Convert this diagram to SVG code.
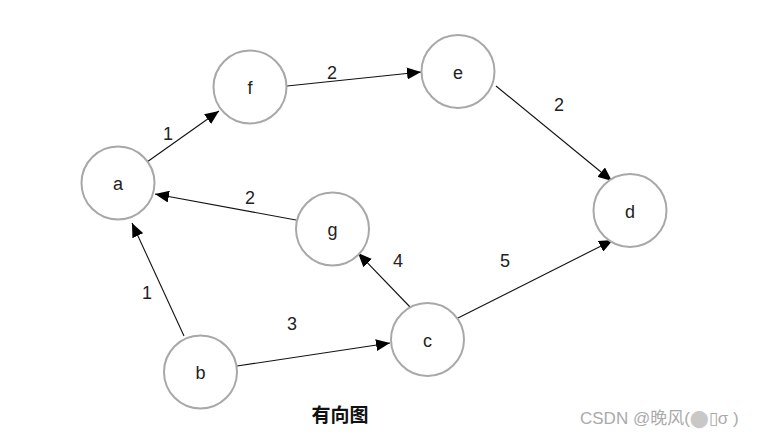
<svg xmlns="http://www.w3.org/2000/svg" width="762" height="439" viewBox="0 0 762 439">
<style>
.node circle{fill:#fff;stroke:#a8a8a8;stroke-width:2}
.node text{font-family:"Liberation Sans",Arial,sans-serif;font-size:18px;fill:#222;text-anchor:middle;dominant-baseline:central}
.edge{stroke:#111;stroke-width:1.1;fill:none;marker-end:url(#arr)}
.lbl{font-family:"Liberation Sans",Arial,sans-serif;font-size:18px;fill:#222;text-anchor:middle}
</style>
<defs>
<marker id="arr" markerUnits="userSpaceOnUse" viewBox="0 0 14 12" refX="14" refY="6" markerWidth="14" markerHeight="12" orient="auto">
<path d="M0,0 L14,6 L0,12 Z" fill="#000"/>
</marker>
</defs>
<rect width="762" height="439" fill="#fff"/>
<g id="connectors">
<line class="edge" x1="147" y1="162" x2="219" y2="111"/>
<line class="edge" x1="287" y1="86" x2="421" y2="72"/>
<line class="edge" x1="496" y1="86" x2="612" y2="181"/>
<line class="edge" x1="296" y1="220" x2="155" y2="194"/>
<line class="edge" x1="184" y1="336" x2="132" y2="223"/>
<line class="edge" x1="237" y1="366" x2="390" y2="343"/>
<line class="edge" x1="411" y1="308" x2="358" y2="253"/>
<line class="edge" x1="456" y1="319" x2="613" y2="240"/>
<text class="lbl" x="168" y="140">1</text>
<text class="lbl" x="332" y="79">2</text>
<text class="lbl" x="559" y="111">2</text>
<text class="lbl" x="250" y="204">2</text>
<text class="lbl" x="398" y="267">4</text>
<text class="lbl" x="505" y="267">5</text>
<text class="lbl" x="147" y="299">1</text>
<text class="lbl" x="292" y="330">3</text>
</g>
<g id="node-a" class="node"><circle cx="118" cy="183" r="36.5"/><text x="118" y="184">a</text></g>
<g id="node-f" class="node"><circle cx="250" cy="87" r="36.5"/><text x="250" y="88">f</text></g>
<g id="node-e" class="node"><circle cx="458" cy="71.5" r="36.5"/><text x="458" y="72.5">e</text></g>
<g id="node-g" class="node"><circle cx="332.5" cy="229" r="36.5"/><text x="332.5" y="230">g</text></g>
<g id="node-d" class="node"><circle cx="630" cy="210.5" r="36.5"/><text x="630" y="211.5">d</text></g>
<g id="node-b" class="node"><circle cx="200.5" cy="372" r="36.5"/><text x="200.5" y="373">b</text></g>
<g id="node-c" class="node"><circle cx="427.5" cy="339.5" r="36.5"/><text x="427.5" y="340.5">c</text></g>
<text x="340" y="422" font-family="'Noto Sans CJK SC',sans-serif" font-size="19" font-weight="bold" fill="#111" text-anchor="middle">有向图</text>
<text x="580" y="424" font-family="'Liberation Sans','Noto Sans CJK SC',sans-serif" font-size="17" fill="#aaa">CSDN @晚风(<tspan font-family="'DejaVu Sans',sans-serif" font-size="17" fill="#c8c8c8">⬤</tspan><tspan>▯σ )</tspan></text>
</svg>
